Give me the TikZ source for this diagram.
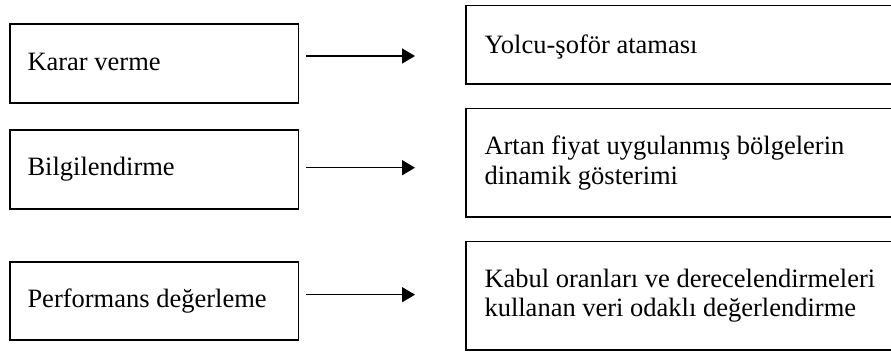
\documentclass[tikz,border=0pt]{standalone}
\usepackage{fontspec}
\setmainfont{Liberation Serif}
\usetikzlibrary{arrows.meta}
\begin{document}
\begin{tikzpicture}[x=1pt,y=-1pt,
  box/.style={draw=black,line width=1.6pt,anchor=north west,inner sep=0pt},
  lbl/.style={anchor=base west,inner sep=0pt,align=left,
    font=\fontsize{26.5}{29.3}\selectfont},
  link/.style={line width=1.5pt,-{Triangle[length=13pt,width=15pt]}}]
\useasboundingbox (0,0) rectangle (891,352);
\clip (0,0) rectangle (891,352);

% functions on the left
\node[box,minimum width=288.2pt,minimum height=78.7pt] (f1) at (9.3,23.3) {};
\node[box,minimum width=288.2pt,minimum height=78.7pt] (f2) at (9.3,129.3) {};
\node[box,minimum width=288.2pt,minimum height=78.0pt] (f3) at (9.3,261.3) {};
\node[lbl] (f1t) at (27.3,70.7) {Karar verme};
\node[lbl] (f2t) at (27.3,176) {Bilgilendirme};
\node[lbl] (f3t) at (27.3,307.3) {Performans değerleme};

% applications on the right (open towards the right edge)
\node[box,minimum width=434.7pt,minimum height=78.6pt] (u1) at (465.3,4.7) {};
\node[box,minimum width=434.7pt,minimum height=108.3pt] (u2) at (465.3,107.7) {};
\node[box,minimum width=434.7pt,minimum height=108.3pt] (u3) at (465.3,240.7) {};
% multi-line labels are placed by the baseline of their last line
\node[lbl] (u1t) at (484.3,53.3) {Yolcu-şoför ataması};
\node[lbl] (u2t) at (484.3,184.3) {Artan fiyat uygulanmış bölgelerin\\dinamik gösterimi};
\node[lbl] (u3t) at (484.3,316.7) {Kabul oranları ve derecelendirmeleri\\kullanan veri odaklı değerlendirme};

% arrows between the two columns
\coordinate (a1s) at (306,56);   \coordinate (a1e) at (415,56);
\coordinate (a2s) at (306,167.7); \coordinate (a2e) at (415,167.7);
\coordinate (a3s) at (306,294.7); \coordinate (a3e) at (415,294.7);
\draw[link] (a1s) -- (a1e);
\draw[link] (a2s) -- (a2e);
\draw[link] (a3s) -- (a3e);
\end{tikzpicture}
\end{document}
